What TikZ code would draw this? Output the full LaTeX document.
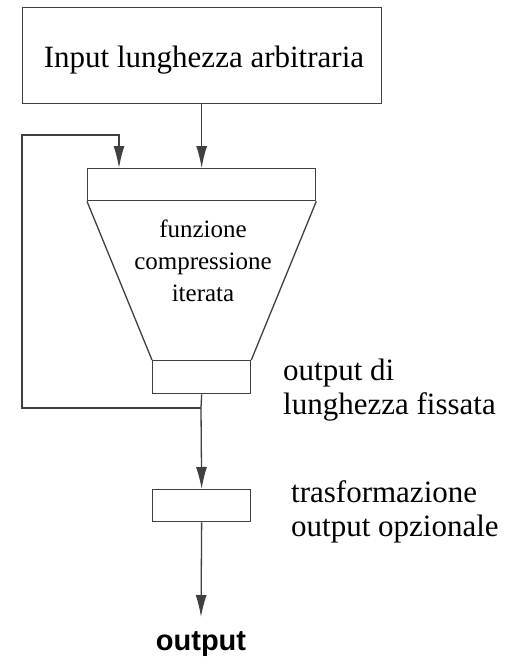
\documentclass[tikz,border=0pt]{standalone}
\usepackage{fontspec}
\setmainfont{Liberation Serif}
\newfontfamily\sansb{Liberation Sans}
\usetikzlibrary{arrows.meta}
\begin{document}
\begin{tikzpicture}[x=1pt,y=-1pt,
  ln/.style={draw=black!75,line width=1.3pt},
  arr/.style={ln,-{Latex[length=22pt,width=11pt]}},
  boxst/.style={ln,rectangle,inner sep=0pt,anchor=north west},
  lbl/.style={anchor=base west,inner sep=0pt,font=\fontsize{31}{34}\selectfont,align=left}]
\useasboundingbox (0,0) rectangle (512,657);
\fill[white] (0,0) rectangle (512,657);
\node[boxst,minimum width=359pt,minimum height=96pt] (top) at (22,7) {};
\node[inner sep=0pt,anchor=base,font=\fontsize{31}{34}\selectfont] (toptext) at (204,67) {Input lunghezza arbitraria};
\node[boxst,minimum width=228pt,minimum height=32pt] (bar) at (87,168) {};
\node[boxst,minimum width=98pt,minimum height=33pt] (fix) at (152,360) {};
\node[boxst,minimum width=98pt,minimum height=32pt] (trans) at (152,489) {};
\draw[ln] (bar.south west) -- (fix.north west);
\draw[ln] (bar.south east) -- (fix.north east);
\node[inner sep=0pt,align=center,font=\fontsize{25}{32}\selectfont] (func) at (203,261) {funzione\\compressione\\iterata};
\node[lbl] (l1) at (283,414) {output di\\lunghezza fissata};
\node[lbl] (l2) at (291,536) {trasformazione\\output opzionale};
\node[inner sep=0pt,anchor=base,font=\sansb\bfseries\fontsize{29}{32}\selectfont] (out) at (201,650) {output};
\coordinate (j) at (201,408);
\coordinate (c1) at (22,408);
\coordinate (c2) at (22,135);
\coordinate (c3) at (119,135);
\coordinate (tip) at (201,617);
\draw[arr] (top.south -| bar.north) -- (bar.north);
\draw[arr] (j) -- (c1) -- (c2) -- (c3) -- (c3 |- bar.north);
\draw[ln] (fix.south) -- (j);
\draw[arr] (j) -- (trans.north);
\draw[arr] (trans.south) -- (tip);
\end{tikzpicture}
\end{document}
